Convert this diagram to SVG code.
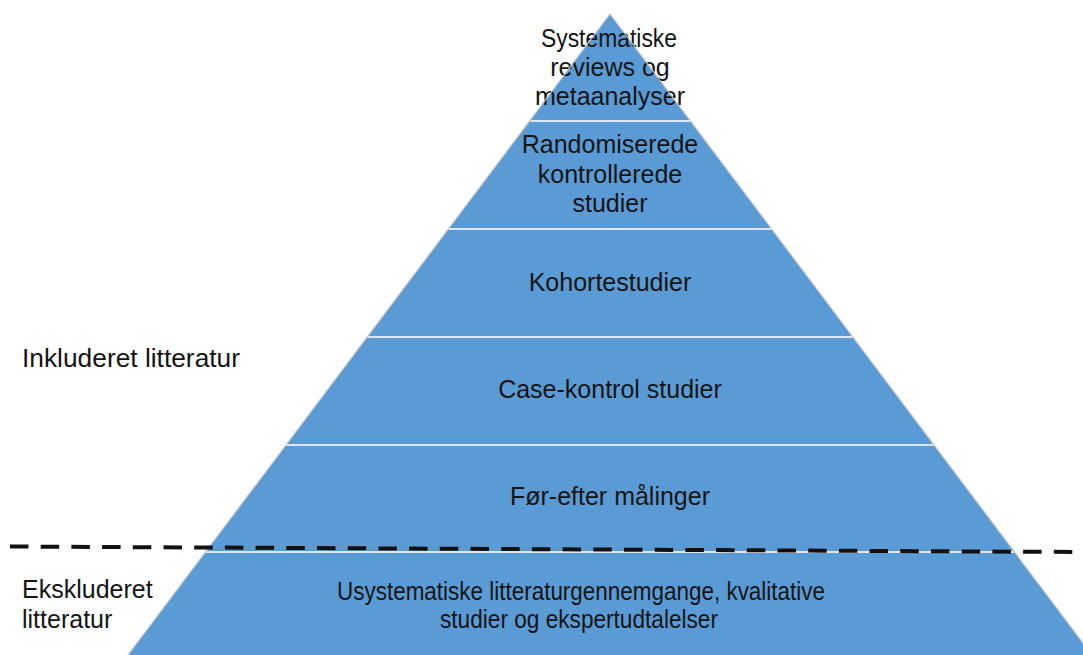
<svg xmlns="http://www.w3.org/2000/svg" width="1083" height="655" viewBox="0 0 1083 655">
<style>
.band{fill:#5B9BD5;stroke:none}
.sep{stroke:#DCE8F5;stroke-width:2;fill:none}
.edge{stroke:#C9C9C9;stroke-width:1.2;fill:none}
text{font-family:"Liberation Sans",Arial,sans-serif;font-size:25px;fill:#141414}
.c{text-anchor:middle}
.div{stroke:#111;stroke-width:4;stroke-dasharray:18.5 12.2;fill:none}
</style>
<rect width="1083" height="655" fill="#fff"/>
<g id="band1"><polygon class="band" points="610,14 690.5,121 529.5,121"/>
<text class="c" x="609" y="47" textLength="136" lengthAdjust="spacingAndGlyphs">Systematiske</text><text class="c" x="610" y="76">reviews og</text><text class="c" x="610" y="105">metaanalyser</text></g>
<g id="band2"><polygon class="band" points="529.5,121 690.5,121 771.7,229 448.3,229"/>
<text class="c" x="610" y="153">Randomiserede</text><text class="c" x="610" y="183">kontrollerede</text><text class="c" x="610" y="212">studier</text></g>
<g id="band3"><polygon class="band" points="448.3,229 771.7,229 852.9,337 367.1,337"/>
<text class="c" x="610" y="291">Kohortestudier</text></g>
<g id="band4"><polygon class="band" points="367.1,337 852.9,337 934.1,445 285.9,445"/>
<text class="c" x="610" y="398">Case-kontrol studier</text></g>
<g id="band5"><polygon class="band" points="285.9,445 934.1,445 1014.6,552 205.4,552"/>
<text class="c" x="610" y="505">Før-efter målinger</text></g>
<g id="band6"><polygon class="band" points="205.4,552 1014.6,552 1097.3,662 122.7,662"/>
<text class="c" x="581" y="600" textLength="488" lengthAdjust="spacingAndGlyphs">Usystematiske litteraturgennemgange, kvalitative</text><text class="c" x="579" y="628" textLength="278" lengthAdjust="spacingAndGlyphs">studier og ekspertudtalelser</text></g>
<g id="outline">
<line class="sep" x1="529.5" y1="121" x2="690.5" y2="121"/>
<line class="sep" x1="448.3" y1="229" x2="771.7" y2="229"/>
<line class="sep" x1="367.1" y1="337" x2="852.9" y2="337"/>
<line class="sep" x1="285.9" y1="445" x2="934.1" y2="445"/>
<line class="sep" x1="205.4" y1="552" x2="1014.6" y2="552"/>
<polyline class="edge" points="122.7,662 610,14 1097.3,662"/>
</g>
<g id="label-inkluderet"><text x="22" y="367" textLength="218" lengthAdjust="spacingAndGlyphs">Inkluderet litteratur</text></g>
<g id="label-ekskluderet"><text x="22" y="598">Ekskluderet</text><text x="22" y="628">litteratur</text></g>
<g id="connectors"><line class="div" x1="10" y1="546.5" x2="1083" y2="552"/></g>
</svg>
